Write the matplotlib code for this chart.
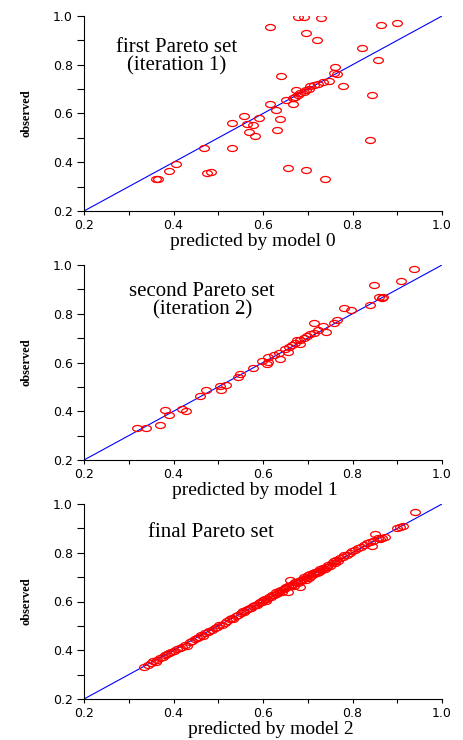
import matplotlib
matplotlib.use("Agg")
from matplotlib import pyplot as plt
from matplotlib.path import Path
from matplotlib.transforms import Affine2D
from matplotlib.ticker import MultipleLocator, FormatStrFormatter

# panel 1: first Pareto set, predicted by model 0
pred0 = [0.679, 0.692, 0.729, 0.615, 0.697, 0.721, 0.864, 0.900, 0.821, 0.858,
         0.640, 0.760, 0.758, 0.765, 0.747, 0.735, 0.724, 0.713, 0.705, 0.702,
         0.697, 0.691, 0.683, 0.674, 0.679, 0.672, 0.667, 0.651, 0.668, 0.778,
         0.844, 0.615, 0.629, 0.558, 0.590, 0.637, 0.530, 0.564, 0.578, 0.569,
         0.582, 0.631, 0.468, 0.530, 0.838, 0.406, 0.389, 0.362, 0.366, 0.474,
         0.483, 0.656, 0.695, 0.738]
obs0 = [0.996, 0.996, 0.992, 0.954, 0.929, 0.903, 0.963, 0.971, 0.869, 0.818,
        0.752, 0.792, 0.766, 0.763, 0.735, 0.729, 0.722, 0.718, 0.711, 0.702,
        0.695, 0.688, 0.684, 0.695, 0.675, 0.668, 0.662, 0.654, 0.638, 0.713,
        0.677, 0.639, 0.613, 0.588, 0.582, 0.577, 0.562, 0.556, 0.553, 0.523,
        0.506, 0.534, 0.458, 0.460, 0.493, 0.394, 0.364, 0.331, 0.331, 0.356,
        0.359, 0.375, 0.368, 0.333]

# panel 2: second Pareto set, predicted by model 1
pred1 = [0.937, 0.909, 0.847, 0.860, 0.866, 0.869, 0.838, 0.782, 0.797, 0.765,
         0.758, 0.715, 0.734, 0.741, 0.722, 0.713, 0.706, 0.698, 0.691, 0.683,
         0.676, 0.683, 0.672, 0.664, 0.657, 0.650, 0.655, 0.635, 0.637, 0.624,
         0.612, 0.597, 0.612, 0.610, 0.577, 0.549, 0.545, 0.504, 0.506, 0.518,
         0.473, 0.460, 0.381, 0.389, 0.419, 0.428, 0.370, 0.319, 0.339]
obs1 = [0.984, 0.933, 0.920, 0.869, 0.864, 0.867, 0.836, 0.823, 0.814, 0.773,
        0.764, 0.761, 0.750, 0.725, 0.732, 0.722, 0.715, 0.709, 0.699, 0.691,
        0.692, 0.674, 0.681, 0.671, 0.663, 0.654, 0.643, 0.638, 0.615, 0.629,
        0.622, 0.608, 0.601, 0.592, 0.578, 0.553, 0.540, 0.502, 0.489, 0.509,
        0.489, 0.463, 0.405, 0.384, 0.409, 0.402, 0.343, 0.333, 0.333]

# panel 3: final Pareto set, predicted by model 2
pred2 = [0.335, 0.342, 0.350, 0.355, 0.360, 0.364, 0.370, 0.376, 0.380, 0.386,
         0.390, 0.395, 0.402, 0.408, 0.414, 0.420, 0.425, 0.430, 0.436, 0.442,
         0.448, 0.452, 0.458, 0.462, 0.466, 0.470, 0.476, 0.480, 0.486, 0.492,
         0.498, 0.502, 0.508, 0.514, 0.520, 0.526, 0.530, 0.534, 0.540, 0.545,
         0.550, 0.555, 0.558, 0.562, 0.566, 0.570, 0.574, 0.578, 0.582, 0.586,
         0.590, 0.594, 0.598, 0.600, 0.604, 0.606, 0.610, 0.614, 0.618, 0.620,
         0.624, 0.628, 0.630, 0.634, 0.636, 0.640, 0.642, 0.646, 0.650, 0.652,
         0.655, 0.656, 0.660, 0.661, 0.664, 0.668, 0.670, 0.672, 0.675, 0.678,
         0.680, 0.683, 0.684, 0.686, 0.690, 0.692, 0.695, 0.698, 0.700, 0.703,
         0.706, 0.708, 0.711, 0.714, 0.716, 0.720, 0.722, 0.725, 0.728, 0.731,
         0.734, 0.738, 0.740, 0.744, 0.746, 0.750, 0.754, 0.758, 0.760, 0.764,
         0.768, 0.772, 0.778, 0.782, 0.788, 0.794, 0.798, 0.805, 0.812, 0.818,
         0.825, 0.832, 0.838, 0.843, 0.846, 0.851, 0.856, 0.862, 0.866, 0.872,
         0.899, 0.906, 0.913, 0.940]
obs2 = [0.332, 0.338, 0.348, 0.355, 0.352, 0.362, 0.368, 0.372, 0.380, 0.383,
        0.390, 0.392, 0.398, 0.405, 0.410, 0.412, 0.420, 0.418, 0.432, 0.438,
        0.445, 0.452, 0.455, 0.462, 0.458, 0.470, 0.474, 0.478, 0.484, 0.490,
        0.497, 0.505, 0.502, 0.512, 0.518, 0.528, 0.532, 0.530, 0.540, 0.546,
        0.552, 0.560, 0.555, 0.566, 0.570, 0.574, 0.572, 0.580, 0.586, 0.584,
        0.594, 0.598, 0.600, 0.608, 0.612, 0.604, 0.612, 0.618, 0.620, 0.628,
        0.626, 0.632, 0.640, 0.636, 0.644, 0.648, 0.640, 0.652, 0.654, 0.660,
        0.638, 0.662, 0.664, 0.690, 0.668, 0.672, 0.664, 0.678, 0.682, 0.676,
        0.686, 0.658, 0.690, 0.684, 0.694, 0.700, 0.690, 0.702, 0.708, 0.698,
        0.712, 0.706, 0.716, 0.712, 0.722, 0.718, 0.726, 0.720, 0.732, 0.728,
        0.738, 0.734, 0.742, 0.740, 0.750, 0.746, 0.760, 0.766, 0.756, 0.772,
        0.768, 0.778, 0.784, 0.790, 0.792, 0.800, 0.806, 0.812, 0.818, 0.824,
        0.832, 0.838, 0.845, 0.826, 0.850, 0.877, 0.862, 0.858, 0.860, 0.866,
        0.900, 0.904, 0.911, 0.966]

titles = ["first Pareto set\n(iteration 1)", "second Pareto set\n(iteration 2)", "final Pareto set"]
xlabels = ["predicted by model 0", "predicted by model 1", "predicted by model 2"]

SERIF = "Liberation Serif"
SANS = "DejaVu Sans"

# open ellipse marker, wider than tall
ellipse = Path.unit_circle().transformed(Affine2D().scale(1.0, 0.62))


def draw_panel(ax, x, y, title, title_xy, xlabel, xlabel_x):
    ax.plot([0.2, 1.0], [0.2, 1.0], color="blue", linewidth=0.8, zorder=1)
    ax.plot(x, y, linestyle="none", marker=ellipse, markersize=7.0,
            markerfacecolor="none", markeredgecolor="red", markeredgewidth=0.9,
            zorder=2)

    ax.set_xlim(0.2, 1.0)
    ax.set_ylim(0.2, 1.0)
    for name in ("right", "top"):
        ax.spines[name].set_visible(False)
    for name in ("left", "bottom"):
        ax.spines[name].set_linewidth(0.8)

    for axis in (ax.xaxis, ax.yaxis):
        axis.set_major_locator(MultipleLocator(0.2))
        axis.set_minor_locator(MultipleLocator(0.1))
        axis.set_major_formatter(FormatStrFormatter("%.1f"))
    ax.tick_params(axis="x", which="both", direction="out", length=3, width=0.8, pad=2.5)
    ax.tick_params(axis="y", which="both", direction="out", length=5, width=0.8, pad=3)
    for lab in ax.get_xticklabels() + ax.get_yticklabels():
        lab.set_fontfamily(SANS)
        lab.set_fontsize(9)

    ax.set_xlabel(xlabel, fontfamily=SERIF, fontsize=14)
    ax.xaxis.set_label_coords(xlabel_x, -0.115)
    ax.set_ylabel("observed", fontfamily=SERIF, fontsize=9, fontweight="bold")
    ax.yaxis.set_label_coords(-0.145, 0.5)

    ax.text(title_xy[0], title_xy[1], title, fontfamily=SERIF, fontsize=15,
            ha="center", va="center", linespacing=0.95)


fig = plt.figure(figsize=(4.64, 7.40), dpi=100)
left, width, height = 84 / 464, 358 / 464, 195 / 740
bottoms = [1 - 211 / 740, 1 - 460 / 740, 1 - 699 / 740]
title_pos = [(0.408, 0.832), (0.464, 0.852), (0.484, 0.885)]
xlabel_xs = [0.472, 0.478, 0.522]
data = [(pred0, obs0), (pred1, obs1), (pred2, obs2)]

for i in range(3):
    ax = fig.add_axes([left, bottoms[i], width, height])
    draw_panel(ax, data[i][0], data[i][1], titles[i], title_pos[i], xlabels[i], xlabel_xs[i])

fig.savefig("out.png", dpi=100)
